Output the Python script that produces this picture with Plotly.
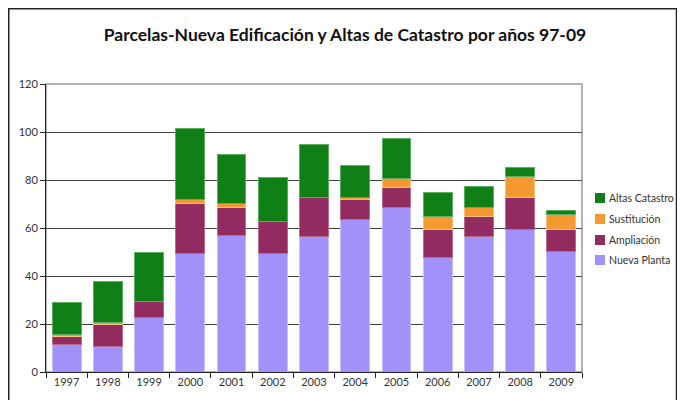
import plotly.graph_objects as go

years = ["1997", "1998", "1999", "2000", "2001", "2002", "2003", "2004", "2005", "2006", "2007", "2008", "2009"]
nueva_planta = [11.4, 10.5, 22.6, 49.5, 56.7, 49.4, 56.5, 63.5, 68.6, 47.8, 56.5, 59.4, 50.4]
ampliacion = [3.3, 9.3, 6.8, 20.8, 11.9, 13.5, 16.3, 8.3, 8.4, 11.6, 8.4, 13.4, 9.0]
sustitucion = [1.0, 1.0, 0.0, 1.5, 1.8, 0.0, 0.0, 1.0, 3.6, 5.5, 3.7, 8.7, 6.3]
altas_catastro = [13.3, 17.1, 20.6, 29.5, 20.3, 18.2, 22.2, 13.3, 16.8, 10.1, 8.8, 3.8, 1.7]

series = [
    ("Nueva Planta", nueva_planta, "#A191F9", "#C8BEFC"),
    ("Ampliación", ampliacion, "#922B60", "#B86A90"),
    ("Sustitución", sustitucion, "#F5982F", "#F9C080"),
    ("Altas Catastro", altas_catastro, "#108016", "#5DAE60"),
]

FONT = "Lato, 'Open Sans', sans-serif"

fig = go.Figure()
for name, vals, col, edge in series:
    fig.add_trace(go.Bar(
        x=years, y=vals, name=name, showlegend=False,
        marker=dict(color=col, line=dict(color=edge, width=1)),
    ))

# page has an 8px body margin; figure coordinates = page - 8
W, H = 677, 392
L, T = 38, 76
R = W - 574
B = H - 364
pw, ph = W - L - R, H - T - B

def px_x(x):
    return (x - L) / pw

def px_y(y):
    return (H - B - y) / ph

shapes = [
    dict(type="rect", xref="paper", yref="paper",
         x0=0, x1=1, y0=0, y1=1,
         line=dict(color="#999999", width=1.5), layer="below"),
    dict(type="rect", xref="paper", yref="paper",
         x0=px_x(0.75), x1=px_x(668.5), y0=px_y(0.75), y1=px_y(410),
         line=dict(color="#222222", width=1.5), layer="below"),
]
annotations = []

# legend (drawn manually, top entry = last stacked series)
legend_y = [190, 211, 232, 252]
for (name, vals, col, edge), yc in zip(reversed(series), legend_y):
    shapes.append(dict(
        type="rect", xref="paper", yref="paper",
        x0=px_x(587), x1=px_x(597), y0=px_y(yc + 5), y1=px_y(yc - 5),
        fillcolor=col, line=dict(width=0),
    ))
    annotations.append(dict(
        text=name, xref="paper", yref="paper",
        x=px_x(599), y=px_y(yc), xanchor="left", yanchor="middle",
        showarrow=False, font=dict(family=FONT, size=10.5, color="#333333"),
    ))

fig.update_layout(
    width=W, height=H,
    margin=dict(l=L, r=R, t=T, b=B, autoexpand=False),
    barmode="stack",
    bargap=0.3,
    paper_bgcolor="white",
    plot_bgcolor="white",
    font=dict(family=FONT, size=11, color="#333333"),
    title=dict(
        text="<b>Parcelas-Nueva Edificación y Altas de Catastro por años 97-09</b>",
        x=337 / W, xref="container", xanchor="center",
        y=1 - 27 / H, yref="container", yanchor="middle",
        font=dict(family=FONT, size=17.5, color="#111111"),
    ),
    xaxis=dict(
        type="category",
        tickson="boundaries",
        ticks="outside", ticklen=5, tickcolor="#222222",
        showline=True, linecolor="#222222", linewidth=1,
        showgrid=False,
        tickfont=dict(family=FONT, size=11, color="#333333"),
    ),
    yaxis=dict(
        range=[0, 120], dtick=20,
        ticks="outside", ticklen=5, tickcolor="#222222",
        showline=True, linecolor="#222222", linewidth=1,
        showgrid=True, gridcolor="#444444", gridwidth=1,
        zeroline=False,
        tickfont=dict(family=FONT, size=11, color="#333333"),
    ),
    shapes=shapes,
    annotations=annotations,
)

fig.write_html("out.html")
